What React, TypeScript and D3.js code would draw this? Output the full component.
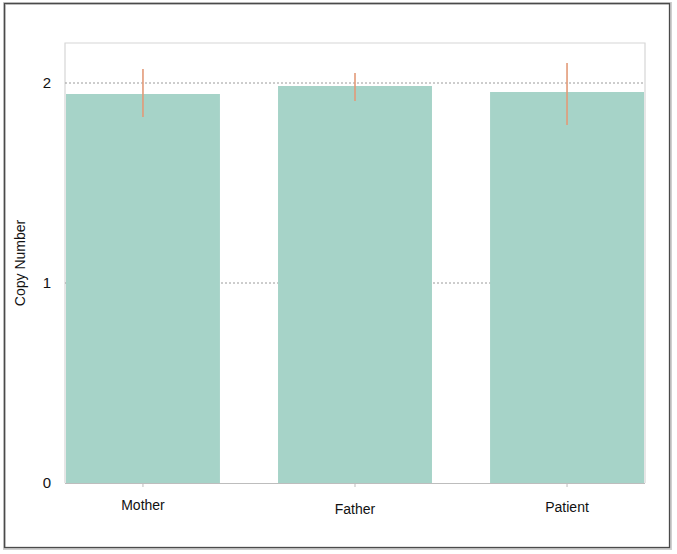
import React from 'react';
import * as d3 from 'd3';

const categories = ['Mother', 'Father', 'Patient'];
const copyNumber = [1.945, 1.985, 1.955];
const errLow = [1.83, 1.91, 1.79];
const errHigh = [2.07, 2.05, 2.1];
const yTicks = [0, 1, 2];
// labels in the source sit at slightly different heights
const labelShift = [0, 4, 2];

const W = 677;
const H = 554;
const margin = { top: 43, right: 32, bottom: 71, left: 65 };

export default function App() {
  const innerW = W - margin.left - margin.right;
  const innerH = H - margin.top - margin.bottom;

  const x = d3.scaleBand()
    .domain(categories)
    .range([1, innerW - 1])
    .paddingInner(0.274)
    .paddingOuter(0);

  const y = d3.scaleLinear()
    .domain([0, 2.2])
    .range([innerH, 0]);

  const font = '"Liberation Sans", Arial, Helvetica, sans-serif';

  return (
    <svg width={W} height={H} style={{ position: 'absolute', left: 0, top: 0 }} fontFamily={font}>
      <rect x={0} y={0} width={W} height={H} fill="#fff" />
      {/* outer frame */}
      <rect x={4.5} y={3.5} width={666} height={545} fill="none" stroke="#cfcfcf" strokeWidth={3} />
      <rect x={4.5} y={3.5} width={665} height={544} fill="none" stroke="#4a4a4a" strokeWidth={1.3} />

      <g transform={`translate(${margin.left},${margin.top})`}>
        {/* plot frame */}
        <path d={`M0,${innerH} V0 H${innerW} V${innerH}`} fill="none" stroke="#d6d6d6" strokeWidth={1.2} />

        {yTicks.filter(t => t > 0).map(t => (
          <line key={t} x1={0} x2={innerW} y1={y(t)} y2={y(t)}
            stroke="#9a9a9a" strokeWidth={1} strokeDasharray="2,2" />
        ))}

        {categories.map((c, i) => (
          <rect key={c} x={x(c)} y={y(copyNumber[i])} width={x.bandwidth()}
            height={innerH - y(copyNumber[i])} fill="#a6d3c8" />
        ))}

        {categories.map((c, i) => (
          <line key={c} x1={x(c)! + x.bandwidth() / 2} x2={x(c)! + x.bandwidth() / 2}
            y1={y(errLow[i])} y2={y(errHigh[i])} stroke="#e39a78" strokeWidth={1.6} />
        ))}

        {/* x axis */}
        <line x1={0} x2={innerW} y1={innerH + 0.5} y2={innerH + 0.5} stroke="#bdbdbd" strokeWidth={1} />
        {categories.map((c, i) => (
          <g key={c} transform={`translate(${x(c)! + x.bandwidth() / 2},${innerH})`}>
            <line y1={0} y2={4} stroke="#bdbdbd" />
            <text y={27 + labelShift[i]} textAnchor="middle" fontSize={14} fill="#111">{c}</text>
          </g>
        ))}

        {/* y axis */}
        {yTicks.map(t => (
          <text key={t} x={-14} y={y(t)} dy="0.35em" textAnchor="end" fontSize={15} fill="#111">{t}</text>
        ))}
        <text transform={`translate(${-40},${innerH / 2}) rotate(-90)`} textAnchor="middle"
          fontSize={14} fill="#111">Copy Number</text>
      </g>
    </svg>
  );
}
